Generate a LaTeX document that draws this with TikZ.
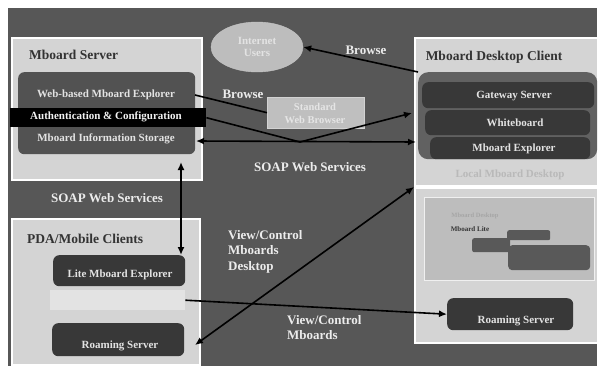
\documentclass[tikz,border=0pt]{standalone}
\usepackage{fontspec}
\setmainfont{Liberation Serif}
\usetikzlibrary{arrows.meta,shapes.geometric}
\begin{document}
\begin{tikzpicture}[x=1pt,y=-1pt,
  panel/.style={draw=white, line width=1.8pt, fill=gray!34, inner sep=0pt, anchor=north west},
  darkbox/.style={fill=black!78, rounded corners=6pt, inner sep=0pt, anchor=north west},
  rowtext/.style={text=gray!22, font=\bfseries\fontsize{11}{12}\selectfont, inner sep=1pt},
  titletext/.style={text=black!80, font=\bfseries\fontsize{13.5}{15}\selectfont, inner sep=1pt},
  labeltext/.style={text=gray!15, font=\bfseries\fontsize{13}{15.5}\selectfont, inner sep=1pt, align=left},
  conn/.style={line width=1.6pt, draw=black},
  tip/.style={-{Latex[length=8pt,width=7pt]}},
  tips/.style={{Latex[length=8pt,width=7pt]}-{Latex[length=8pt,width=7pt]}}]
\useasboundingbox (0,0) rectangle (602,372);
\fill[white] (0,0) rectangle (602,372);
\fill[gray!68!black] (8,8) rectangle (597,366);

% ---------- Mboard Server panel ----------
\node[panel, minimum width=190, minimum height=142] (srvpanel) at (11,37) {};
\node[titletext, anchor=west] (srvtitle) at (28,55) {Mboard Server};
\node[darkbox, fill=black!68, minimum width=177, minimum height=82] (srvbanner) at (18,72) {};
\node[rowtext] (webexp) at (106,95) {Web-based Mboard Explorer};
\node[fill=black, inner sep=0pt, anchor=north west, minimum width=196, minimum height=19] (authbar) at (10,108) {};
\node[rowtext, text=gray!10] (auth) at (106,117) {Authentication \& Configuration};
\node[rowtext] (storage) at (106,139) {Mboard Information Storage};

\node[labeltext] (soapleft) at (107,198) {SOAP Web Services};

% ---------- PDA/Mobile Clients panel ----------
\node[panel, minimum width=188, minimum height=146] (mobpanel) at (11,218) {};
\node[titletext, anchor=west] (mobtitle) at (26,239) {PDA/Mobile Clients};
\node[darkbox, minimum width=132, minimum height=31] (lite) at (53,255) {};
\node[rowtext] (litetext) at (120,275) {Lite Mboard Explorer};
\node[fill=gray!22, inner sep=0pt, anchor=north west, minimum width=135, minimum height=20] (band) at (50,290) {};
\node[darkbox, minimum width=132, minimum height=33] (roam1) at (52,323) {};
\node[rowtext] (roam1text) at (120,346) {Roaming Server};

% ---------- top centre ----------
\node[ellipse, draw=gray!45, fill=gray!52, minimum width=92, minimum height=50, inner sep=0pt,
      text=gray!22, font=\bfseries\fontsize{11}{12}\selectfont, align=center] (users) at (257,47) {Internet\\Users};
\node[labeltext] (browse1) at (366,50) {Browse};
\node[labeltext] (browse2) at (243,94) {Browse};
\node[draw=gray!35, fill=gray!50, inner sep=0pt, anchor=north west, minimum width=97, minimum height=31] (wbrowser) at (267,97) {};
\node[text=gray!20, font=\bfseries\fontsize{10.5}{13}\selectfont, align=center] (wbtext) at (315,113) {Standard\\Web Browser};
\node[labeltext] (soapmid) at (310,167) {SOAP Web Services};

% ---------- Mboard Desktop Client panel ----------
\node[panel, minimum width=183, minimum height=148] (rpanel) at (414,37) {};
\node[titletext] (rtitle) at (494,57) {Mboard Desktop Client};
\node[darkbox, fill=black!62, minimum width=179, minimum height=87, rounded corners=10pt] (rbanner) at (418,72) {};
\node[darkbox, minimum width=172, minimum height=26] (gw) at (422,82) {};
\node[rowtext] (gwtext) at (514,96) {Gateway Server};
\node[darkbox, minimum width=165, minimum height=25] (wb) at (425,110) {};
\node[rowtext] (wbtext2) at (515,123) {Whiteboard};
\node[darkbox, minimum width=160, minimum height=22] (mex) at (430,137) {};
\node[rowtext] (mextext) at (514,149) {Mboard Explorer};
\node[rowtext, text=gray!55] (localdesk) at (510,175) {Local Mboard Desktop};

\node[panel, minimum width=183, minimum height=155] (rlow) at (414,187) {};
\node[draw=gray!12, line width=1.2pt, fill=gray!52, inner sep=0pt, anchor=north west, minimum width=170, minimum height=83] (mock) at (424,197) {};
\node[text=gray!70, font=\bfseries\fontsize{6.5}{7}\selectfont] (mocktitle) at (475,216) {Mboard Desktop};
\node[text=black!80, font=\bfseries\fontsize{7}{8}\selectfont] (mocklite) at (470,229) {Mboard Lite};
\node[darkbox, fill=black!65, rounded corners=2pt, minimum width=43, minimum height=10] (mw1) at (507,230) {};
\node[darkbox, fill=black!65, rounded corners=2pt, minimum width=38, minimum height=14] (mw2) at (472,238) {};
\node[darkbox, fill=black!65, rounded corners=4pt, minimum width=82, minimum height=25] (mw3) at (508,245) {};
\node[darkbox, minimum width=126, minimum height=32] (roam2) at (447,298) {};
\node[rowtext] (roam2text) at (516,321) {Roaming Server};

% ---------- labels ----------
\node[labeltext, anchor=north west] (vcd) at (227,229) {View/Control\\Mboards\\Desktop};
\node[labeltext, anchor=north west] (vcm) at (286,314) {View/Control\\Mboards};

% ---------- connectors ----------
\coordinate (explout) at (195,95);
\coordinate (bend) at (300,142);
\coordinate (wbin) at (412,113);
\coordinate (soapL) at (196,141);
\coordinate (soapR) at (416,142);
\coordinate (vtop) at (181,162);
\coordinate (roamout) at (195,345);

\draw[conn, tip] (rbanner.north west) -- (users.east);
\draw[conn] (explout) -- (wbrowser.west);
\draw[conn, tip] (authbar.east) -- (bend) -- (wbin);
\draw[conn, tips] (soapL) -- (soapR);
\draw[conn, tips] (vtop) -- (vtop |- lite.north);
\draw[conn, tip] (band.east) -- (roam2.west);
\draw[conn, tips] (roamout) -- (rlow.north west);
\end{tikzpicture}
\end{document}
